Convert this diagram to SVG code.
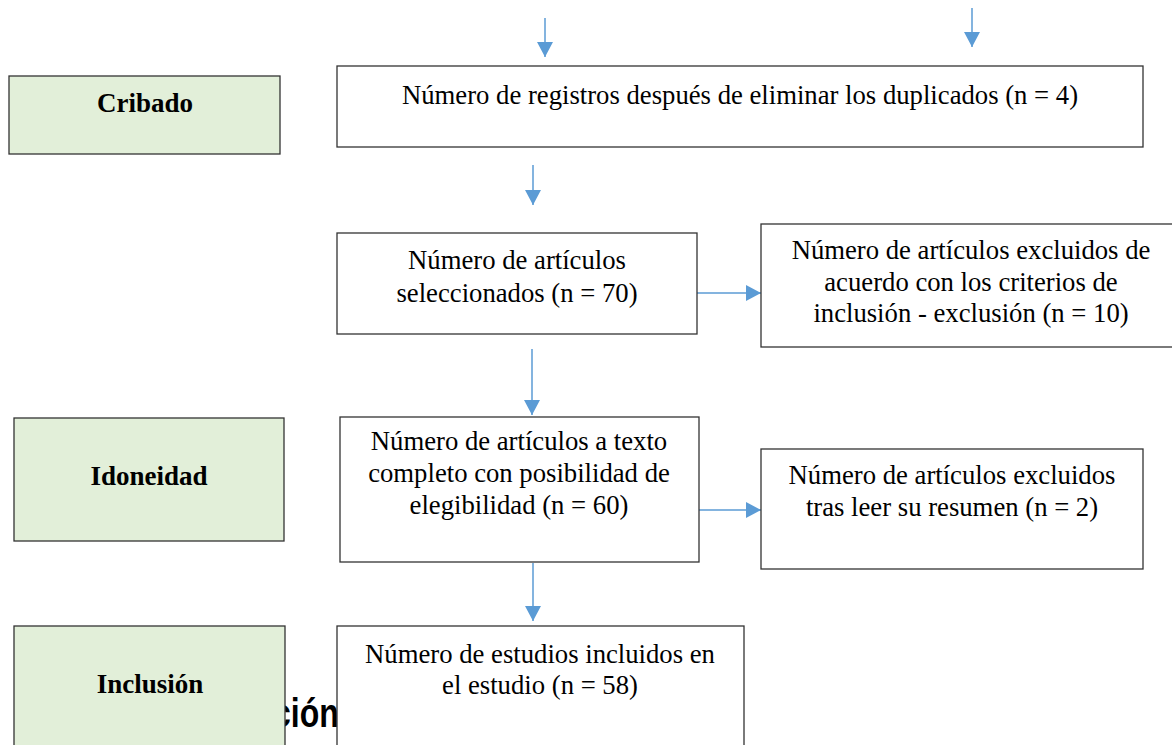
<svg xmlns="http://www.w3.org/2000/svg" width="1172" height="745" viewBox="0 0 1172 745">
<style>
.box{fill:#ffffff;stroke:#333333;stroke-width:1.3}
.stage{fill:#E2EFD9;stroke:#333333;stroke-width:1.3}
.t{font-family:"Liberation Serif","Times New Roman",serif;font-size:26.7px;fill:#000;text-anchor:middle}
.b{font-family:"Liberation Serif","Times New Roman",serif;font-size:27px;font-weight:bold;fill:#000;text-anchor:middle}
.conn{stroke:#5B9BD5;stroke-width:1.5;fill:none}
</style>
<defs>
<marker id="ah" markerUnits="userSpaceOnUse" markerWidth="16" markerHeight="16" refX="15" refY="8" orient="auto">
<path d="M0,0 L15,8 L0,16 Z" fill="#5B9BD5"/>
</marker>
</defs>
<rect width="1172" height="745" fill="#ffffff"/>
<text transform="translate(273,727) scale(0.8,1)" x="0" y="0" font-family="'Liberation Sans',Arial,sans-serif" font-size="40" font-weight="bold" fill="#000">ción</text>
<g id="connectors">
<line class="conn" x1="545" y1="18" x2="545" y2="57" marker-end="url(#ah)"/>
<line class="conn" x1="972" y1="8" x2="972" y2="47" marker-end="url(#ah)"/>
<line class="conn" x1="533" y1="165" x2="533" y2="205" marker-end="url(#ah)"/>
<line class="conn" x1="697" y1="293" x2="761" y2="293" marker-end="url(#ah)"/>
<line class="conn" x1="532" y1="349" x2="532" y2="415" marker-end="url(#ah)"/>
<line class="conn" x1="697" y1="510" x2="761" y2="510" marker-end="url(#ah)"/>
<line class="conn" x1="533" y1="563" x2="533" y2="621" marker-end="url(#ah)"/>
</g>
<g id="stage-cribado">
<rect class="stage" x="9" y="76" width="271" height="78"/>
<text class="b" x="145" y="112">Cribado</text>
</g>
<g id="stage-idoneidad">
<rect class="stage" x="14" y="418" width="270" height="123"/>
<text class="b" x="149" y="485">Idoneidad</text>
</g>
<g id="stage-inclusion">
<rect class="stage" x="14" y="626" width="271" height="125"/>
<text class="b" x="150" y="693">Inclusión</text>
</g>
<g id="node-duplicados">
<rect class="box" x="337" y="66" width="806" height="81"/>
<text class="t" x="740" y="104">Número de registros después de eliminar los duplicados (n = 4)</text>
</g>
<g id="node-seleccionados">
<rect class="box" x="337" y="233" width="360" height="101"/>
<text class="t" x="517" y="269">Número de artículos</text>
<text class="t" x="517" y="302">seleccionados (n = 70)</text>
</g>
<g id="node-excluidos-criterios">
<rect class="box" x="761" y="224" width="420" height="123"/>
<text class="t" x="971" y="259">Número de artículos excluidos de</text>
<text class="t" x="971" y="291">acuerdo con los criterios de</text>
<text class="t" x="971" y="322">inclusión - exclusión (n = 10)</text>
</g>
<g id="node-texto-completo">
<rect class="box" x="340" y="417" width="359" height="145"/>
<text class="t" x="519" y="450">Número de artículos a texto</text>
<text class="t" x="519" y="482">completo con posibilidad de</text>
<text class="t" x="519" y="514">elegibilidad (n = 60)</text>
</g>
<g id="node-excluidos-resumen">
<rect class="box" x="761" y="449" width="382" height="120"/>
<text class="t" x="952" y="484">Número de artículos excluidos</text>
<text class="t" x="952" y="516">tras leer su resumen (n = 2)</text>
</g>
<g id="node-incluidos">
<rect class="box" x="337" y="626" width="407" height="125"/>
<text class="t" x="540" y="663">Número de estudios incluidos en</text>
<text class="t" x="540" y="694">el estudio (n = 58)</text>
</g>
</svg>
